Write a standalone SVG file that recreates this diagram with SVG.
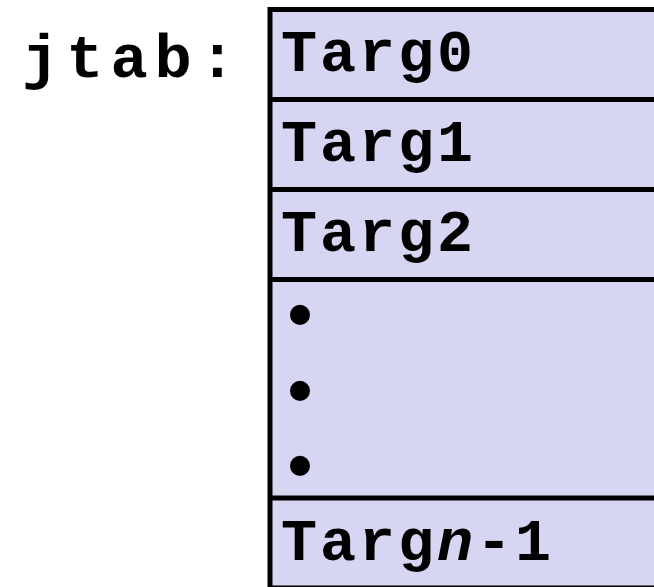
<svg xmlns="http://www.w3.org/2000/svg" width="654" height="587" viewBox="0 0 654 587">
  <style>
    .lbl { font-family: "Liberation Mono", "Courier New", monospace; font-weight: bold; fill: #000; }
    .entry { font-size: 60px; letter-spacing: 3px; }
    .dot { font-family: "Liberation Mono", "Courier New", monospace; font-weight: bold; font-size: 70px; fill: #000; text-anchor: middle; }
    .cell { fill: #D6D6F2; stroke: #000; stroke-width: 5; }
    .sep { stroke: #000; stroke-width: 5; }
  </style>
  <rect width="654" height="587" fill="#fff"/>
  <g id="label">
    <text class="lbl" x="22" y="77" font-size="62" letter-spacing="7">jtab:</text>
  </g>
  <g id="table">
    <rect class="cell" x="270" y="9.5" width="400" height="578.5"/>
    <line class="sep" x1="270" y1="99.5" x2="660" y2="99.5"/>
    <line class="sep" x1="270" y1="189.5" x2="660" y2="189.5"/>
    <line class="sep" x1="270" y1="279.5" x2="660" y2="279.5"/>
    <line class="sep" x1="270" y1="498" x2="660" y2="498"/>
  </g>
  <g id="entries">
    <text class="lbl entry" x="281" y="71">Targ0</text>
    <text class="lbl entry" x="281" y="161">Targ1</text>
    <text class="lbl entry" x="281" y="251">Targ2</text>
    <text class="dot" x="300" y="338">•</text>
    <text class="dot" x="300" y="414">•</text>
    <text class="dot" x="300" y="489">•</text>
    <text class="lbl entry" x="281" y="560">Targ<tspan font-style="italic">n</tspan>-1</text>
  </g>
</svg>
